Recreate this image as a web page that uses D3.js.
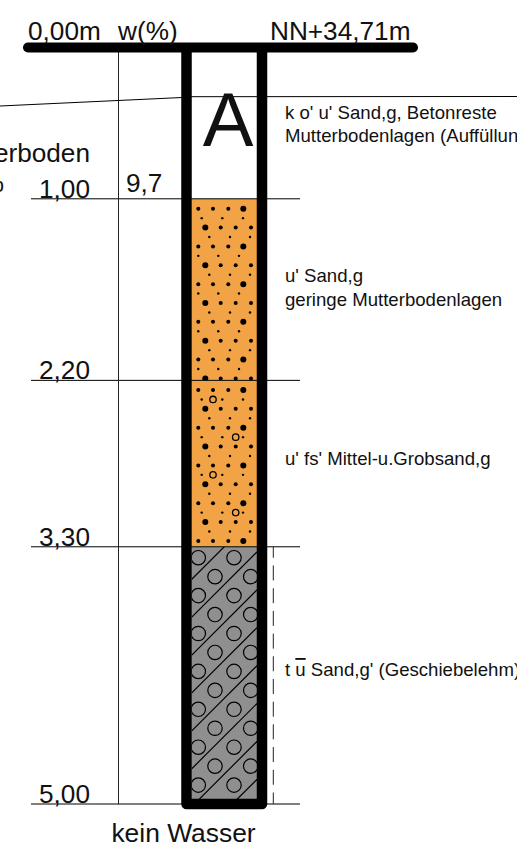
<!DOCTYPE html>
<html>
<head>
<meta charset="utf-8">
<script src="https://cdn.jsdelivr.net/npm/d3@7"></script>
<style>
html, body { margin: 0; padding: 0; background: #fff; overflow: hidden; }
text { font-family: "Liberation Sans", Arial, sans-serif; fill: #111; }
</style>
</head>
<body>
<svg width="517" height="845"></svg>
<script>
// boring log, values
const depths = [1.00, 2.20, 3.30, 5.00]
const depthLabels = ['1,00', '2,20', '3,30', '5,00']
const layerTops = [0, 1.00, 2.20, 3.30]
const layerBottoms = [1.00, 2.20, 3.30, 5.00]
const layerKinds = ['fill', 'sand', 'gravelly', 'till']
const layerFills = ['#ffffff', '#f1a345', '#f1a345', '#8f8f8f']
const waterContentDepths = [1.00]
const waterContentLabels = ['9,7']
const layerTexts = [
    ["k o' u' Sand,g, Betonreste", "Mutterbodenlagen (Auffüllung)"],
    ["u' Sand,g", "geringe Mutterbodenlagen"],
    ["u' fs' Mittel-u.Grobsand,g"],
    []
]

const svg = d3.select('svg')
const y = d3.scaleLinear().domain([0, 5]).range([47.5, 804])
const casingLeft = 186.5
const casingRight = 262
const innerLeft = 191.5
const innerRight = 257

const defs = svg.append('defs')
layerKinds.forEach(function (k, i) {
    defs.append('clipPath').attr('id', 'clip-' + k)
        .append('rect')
        .attr('x', innerLeft)
        .attr('y', y(layerTops[i]))
        .attr('width', innerRight - innerLeft)
        .attr('height', y(layerBottoms[i]) - y(layerTops[i]))
})

// layer fills
svg.selectAll('rect.layer')
    .data(layerKinds)
    .enter()
    .append('rect')
    .attr('class', 'layer')
    .attr('x', innerLeft)
    .attr('y', (d, i) => y(layerTops[i]))
    .attr('width', innerRight - innerLeft)
    .attr('height', (d, i) => y(layerBottoms[i]) - y(layerTops[i]))
    .style('fill', (d, i) => layerFills[i])

// sand hatch: repeating rows of dots
const rowA = [[198.3, 2], [213, 2], [228.3, 2], [243.3, 3]]
const rowB = [[201.7, 1.2], [222.3, 1.2], [243, 1.2]]
const rowC = [[205.3, 3], [220.7, 2], [235.7, 2], [251, 2]]
const rowD = [[209.3, 1.2], [230, 1.2], [250, 1.2]]
const rowF = [[198.3, 1.2], [218.3, 1.2], [239, 1.2]]

function dotRows(kind, startY, count) {
    var g = svg.append('g').attr('clip-path', 'url(#clip-' + kind + ')')
    for (let n = 0; n < count; n++) {
        var rowY = startY + n * 9.43
        var row = [rowA, rowF, rowC, rowD][n % 4]
        if (kind == 'gravelly' && n % 4 == 1) row = rowB
        if (n == 1) row = rowB
        row.forEach(function (p) {
            g.append('circle').attr('cx', p[0]).attr('cy', rowY).attr('r', p[1]).style('fill', 'black')
        })
        if (kind == 'gravelly' && n % 4 == 1) {
            g.append('circle')
                .attr('cx', n % 8 == 1 ? 213 : 235.7)
                .attr('cy', rowY)
                .attr('r', 3.2)
                .style('fill', 'none')
                .style('stroke', 'black')
                .style('stroke-width', 1.3)
        }
    }
}
dotRows('sand', 208.7, 19)
dotRows('gravelly', 390, 17)

// till hatch: diagonals and pebbles
const till = svg.append('g').attr('clip-path', 'url(#clip-till)')
for (let s = 771; s < 1060; s += 37.9) {
    till.append('line')
        .attr('x1', innerLeft).attr('y1', s - innerLeft)
        .attr('x2', innerRight).attr('y2', s - innerRight)
        .style('stroke', 'black').style('stroke-width', 1.2)
}
for (let n = 0; n < 13; n++) {
    var cy = 557.7 + n * 18.95
    var xs = n % 2 == 0 ? [198.3, 234] : [215, 250.7]
    xs.forEach(function (cx) {
        till.append('circle').attr('cx', cx).attr('cy', cy).attr('r', 7.2)
            .style('fill', '#8f8f8f').style('stroke', 'black').style('stroke-width', 1.2)
    })
}

// hairlines
svg.selectAll('line.depth')
    .data(depths)
    .enter()
    .append('line')
    .attr('class', 'depth')
    .attr('x1', 31).attr('x2', 300)
    .attr('y1', d => y(d)).attr('y2', d => y(d))
    .style('stroke', 'black').style('stroke-width', 1)

svg.append('line')
    .attr('x1', 118.5).attr('x2', 118.5)
    .attr('y1', y(0)).attr('y2', y(5))
    .style('stroke', '#222').style('stroke-width', 1)

// terrain line
svg.append('path')
    .attr('d', d3.line()([[0, 106], [182, 97.5], [192, 96.7], [517, 96.5]]))
    .style('fill', 'none').style('stroke', 'black').style('stroke-width', 1)

// dashed line next to the till
svg.append('line')
    .attr('x1', 273.3).attr('x2', 273.3)
    .attr('y1', y(3.30)).attr('y2', y(5))
    .style('stroke', '#222').style('stroke-width', 1)
    .style('stroke-dasharray', '15 7.7')
    .style('stroke-dashoffset', 4)

// casing
svg.append('path')
    .attr('d', d3.line()([[casingLeft, y(0)], [casingLeft, 804], [casingRight, 804], [casingRight, y(0)]]))
    .style('fill', 'none').style('stroke', 'black').style('stroke-width', 10.5)
    .style('stroke-linejoin', 'round')

svg.append('line')
    .attr('x1', 28).attr('x2', 413)
    .attr('y1', 47.5).attr('y2', 47.5)
    .style('stroke', 'black').style('stroke-width', 10)
    .style('stroke-linecap', 'round')

// text
function label(x, yPos, size, str, anchor) {
    return svg.append('text')
        .attr('x', x).attr('y', yPos)
        .attr('text-anchor', anchor || 'start')
        .style('font-size', size + 'px')
        .text(str)
}

label(28, 40, 26.2, '0,00m')
label(118, 40, 26.2, 'w(%)')
label(270, 40, 26.2, 'NN+34,71m')
label(228, 146, 76, 'A', 'middle')
label(90, 161.5, 26.2, 'Mutterboden', 'end')
label(4, 192, 26.2, '%', 'end')

svg.selectAll('text.depthLabel')
    .data(depthLabels)
    .enter()
    .append('text')
    .attr('class', 'depthLabel')
    .attr('x', 39)
    .attr('y', (d, i) => y(depths[i]) - 1)
    .style('font-size', '26.2px')
    .text(d => d)

waterContentLabels.forEach(function (t, i) {
    label(126, y(waterContentDepths[i]) - 7, 26.2, t)
})

const textY = [[119.3, 142.3], [282, 306], [465]]
layerTexts.forEach(function (lines, i) {
    lines.forEach(function (t, j) {
        label(285, textY[i][j], 18.6, t)
    })
})

const tillText = svg.append('text').attr('x', 285).attr('y', 676).style('font-size', '18.6px')
tillText.append('tspan').text('t ')
tillText.append('tspan').style('text-decoration', 'overline').text('u')
tillText.append('tspan').text(" Sand,g' (Geschiebelehm)")

label(183.5, 842, 26.4, 'kein Wasser', 'middle')
</script>
</body>
</html>
